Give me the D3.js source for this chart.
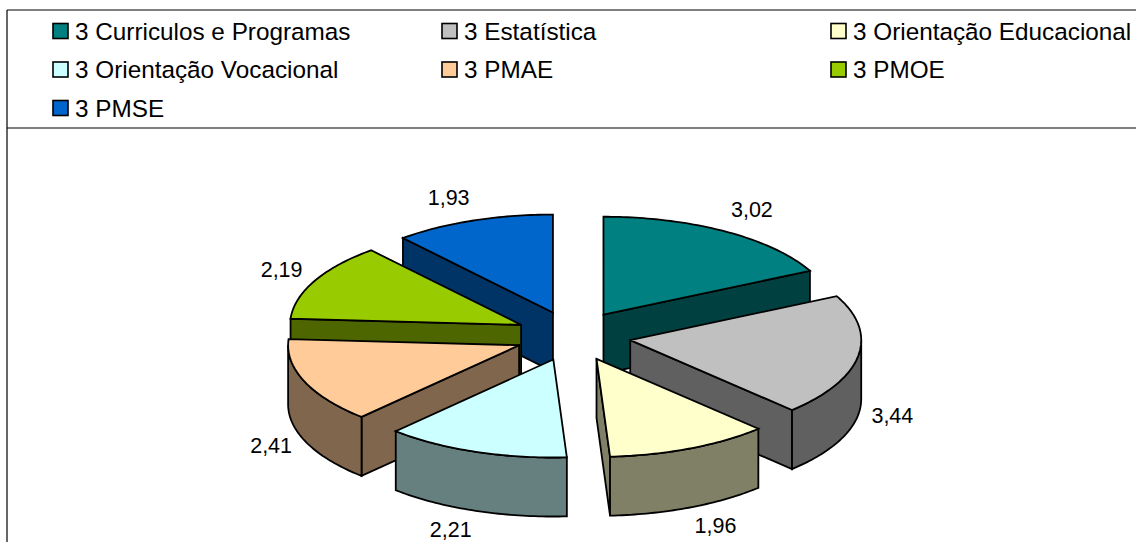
<!DOCTYPE html>
<html>
<head>
<meta charset="utf-8">
<script src="https://cdn.jsdelivr.net/npm/d3@7"></script>
<style>
  html, body { margin: 0; padding: 0; background: #fff; }
  svg { display: block; }
  text { font-family: "Liberation Sans", Arial, sans-serif; fill: #000; }
</style>
</head>
<body>
<svg id="chart" width="1136" height="542"></svg>
<script>
const categories = ["3 Curriculos e Programas", "3 Estatística", "3 Orientação Educacional",
  "3 Orientação Vocacional", "3 PMAE", "3 PMOE", "3 PMSE"];
const values = [3.02, 3.44, 1.96, 2.21, 2.41, 2.19, 1.93];
const topColors = ["#008080", "#C0C0C0", "#FFFFCC", "#CCFFFF", "#FFCC99", "#99CC00", "#0066CC"];
const wallColors = ["#004040", "#606060", "#808066", "#668080", "#80664D", "#4D6600", "#003366"];

const svg = d3.select("#chart");
const fmt = d3.format(".2f");
const DEG = Math.PI / 180;

// frame
const frame = svg.append("g").attr("stroke", "#000").attr("stroke-width", 1.2);
frame.append("line").attr("x1", 7).attr("x2", 1136).attr("y1", 10).attr("y2", 10);
frame.append("line").attr("x1", 7).attr("x2", 7).attr("y1", 10).attr("y2", 542);
frame.append("line").attr("x1", 7).attr("x2", 1136).attr("y1", 128).attr("y2", 128);

// legend
const colX = d3.scaleLinear().domain([0, 1]).range([53, 442]);
const rowY = d3.scaleLinear().domain([0, 1]).range([31, 69.5]);
const legend = svg.append("g").selectAll("g").data(categories).join("g")
  .attr("transform", (d, i) => `translate(${colX(i % 3)},${rowY(Math.floor(i / 3))})`);
legend.append("rect").attr("x", 0).attr("y", -7.5).attr("width", 15).attr("height", 15)
  .attr("fill", (d, i) => topColors[i]).attr("stroke", "#000").attr("stroke-width", 1.6);
legend.append("text").attr("x", 22).attr("y", 8.5)
  .attr("font-size", 24.3).text(d => d);

// exploded pie, drawn back to front
const pie = d3.pie().sort(null).value(d => d)(values);
const cx = 573, cy = 336, explodeX = 58, explodeY = 25;
const rx = 231, ry = 98, depth = 59;

const slices = pie.map((p, i) => {
  const a0 = p.startAngle / DEG, a1 = p.endAngle / DEG;
  const mid = (a0 + a1) / 2;
  return {
    i, a0, a1, mid,
    ox: cx + explodeX * Math.sin(mid * DEG),
    oy: cy - explodeY * Math.cos(mid * DEG)
  };
});

const rim = (s, a, drop = 0) => [s.ox + rx * Math.sin(a * DEG), s.oy - ry * Math.cos(a * DEG) + drop];
const arcAngles = (a, b) => d3.range(a, b, 1).concat(b);
const line = d3.line();

const order = slices.slice().sort((p, q) => d3.descending(Math.cos(p.mid * DEG), Math.cos(q.mid * DEG)));
const g = svg.append("g").attr("stroke", "#000").attr("stroke-width", 1.8)
  .attr("stroke-linejoin", "miter").attr("stroke-miterlimit", 3);

order.forEach(s => {
  const wall = wallColors[s.i];
  // cut faces: only the ones turned towards the viewer
  const faces = [];
  if (s.a0 > 180) faces.push(s.a0);
  if (s.a1 < 180) faces.push(s.a1);
  faces.forEach(a => {
    g.append("path").attr("fill", wall).attr("d", line([
      [s.ox, s.oy], rim(s, a), rim(s, a, depth), [s.ox, s.oy + depth]
    ]) + "Z");
  });
  // outer wall, only the part that faces us
  const w0 = Math.max(s.a0, 90), w1 = Math.min(s.a1, 270);
  if (w1 > w0) {
    const angles = arcAngles(w0, w1);
    const pts = angles.map(a => rim(s, a)).concat(angles.slice().reverse().map(a => rim(s, a, depth)));
    g.append("path").attr("fill", wall).attr("d", line(pts) + "Z");
  }
  // top
  const topPts = [[s.ox, s.oy]].concat(arcAngles(s.a0, s.a1).map(a => rim(s, a)));
  g.append("path").attr("fill", topColors[s.i]).attr("d", line(topPts) + "Z");
});

// value labels
svg.append("g").selectAll("text").data(slices).join("text")
  .attr("text-anchor", "middle").attr("font-size", 21.5)
  .attr("x", s => {
    const sn = Math.sin(s.mid * DEG);
    return s.ox + 1.067 * rx * sn + (sn < 0 ? -19 : 19);
  })
  .attr("y", s => {
    const cs = Math.cos(s.mid * DEG);
    return s.oy - 1.25 * ry * cs + (cs < 0 ? depth - 3.5 : 0) + 7;
  })
  .text(s => fmt(values[s.i]).replace(".", ","));
</script>
</body>
</html>
